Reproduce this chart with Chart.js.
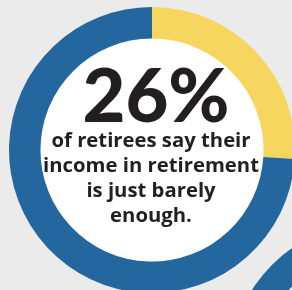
<!DOCTYPE html>
<html>
<head>
<meta charset="utf-8">
<script src="https://cdn.jsdelivr.net/npm/chart.js@4.4.1/dist/chart.umd.min.js"></script>
<style>
  html, body { margin:0; padding:0; width:292px; height:290px; overflow:hidden; background:#ebebeb; }
  #wrap { position:relative; width:292px; height:290px; overflow:hidden; }
  #main { position:absolute; left:0; top:0; }
  #second { position:absolute; left:223px; top:216px; }
</style>
</head>
<body>
<div id="wrap">
  <canvas id="second" width="300" height="300"></canvas>
  <canvas id="main" width="304" height="300"></canvas>
</div>
<script>
// ---- data ----
const categories = ['Just barely enough', 'Other retirees'];
const values = [26, 74];
const headline = '26%';
const captionLines = ['of retirees say their', 'income in retirement', 'is just barely', 'enough.'];
const secondCategories = ['Next figure'];
const secondValues = [100];

const BLUE = '#24679e';
const YELLOW = '#f6d65e';
const INK = '#231f20';

const innerFill = {
  id: 'innerFill',
  beforeDatasetsDraw(chart) {
    const arc = chart.getDatasetMeta(0).data[0];
    if (!arc) return;
    const ctx = chart.ctx;
    ctx.save();
    ctx.beginPath();
    ctx.arc(arc.x, arc.y, arc.innerRadius + 1, 0, Math.PI * 2);
    ctx.fillStyle = '#ffffff';
    ctx.fill();
    ctx.restore();
  }
};

const centerText = {
  id: 'centerText',
  afterDraw(chart) {
    const arc = chart.getDatasetMeta(0).data[0];
    const ctx = chart.ctx;
    ctx.save();
    ctx.fillStyle = INK;
    ctx.textAlign = 'center';
    ctx.textBaseline = 'alphabetic';
    ctx.font = '900 74px Lato';
    ctx.fillText(headline, arc.x + 4, 122);
    ctx.font = 'bold 20px "Open Sans"';
    const w = ctx.measureText(captionLines[1]).width;
    const size = 20 * 216 / w;
    ctx.font = 'bold ' + size.toFixed(2) + 'px "Open Sans"';
    const baselines = [147, 172, 197, 222];
    captionLines.forEach((t, i) => ctx.fillText(t, arc.x - 1, baselines[i]));
    ctx.restore();
  }
};

new Chart(document.getElementById('second'), {
  type: 'doughnut',
  data: { labels: secondCategories, datasets: [{ data: secondValues, backgroundColor: [BLUE], borderWidth: 0 }] },
  options: {
    responsive: false, animation: false, radius: 143, cutout: 119,
    plugins: { legend: { display: false }, tooltip: { enabled: false } }
  },
  plugins: [innerFill]
});

new Chart(document.getElementById('main'), {
  type: 'doughnut',
  data: {
    labels: categories,
    datasets: [{ data: values, backgroundColor: [YELLOW, BLUE], borderWidth: 0 }]
  },
  options: {
    responsive: false, animation: false, radius: 143, cutout: 117,
    rotation: 0,
    plugins: { legend: { display: false }, tooltip: { enabled: false } }
  },
  plugins: [innerFill, centerText]
});
</script>
</body>
</html>
